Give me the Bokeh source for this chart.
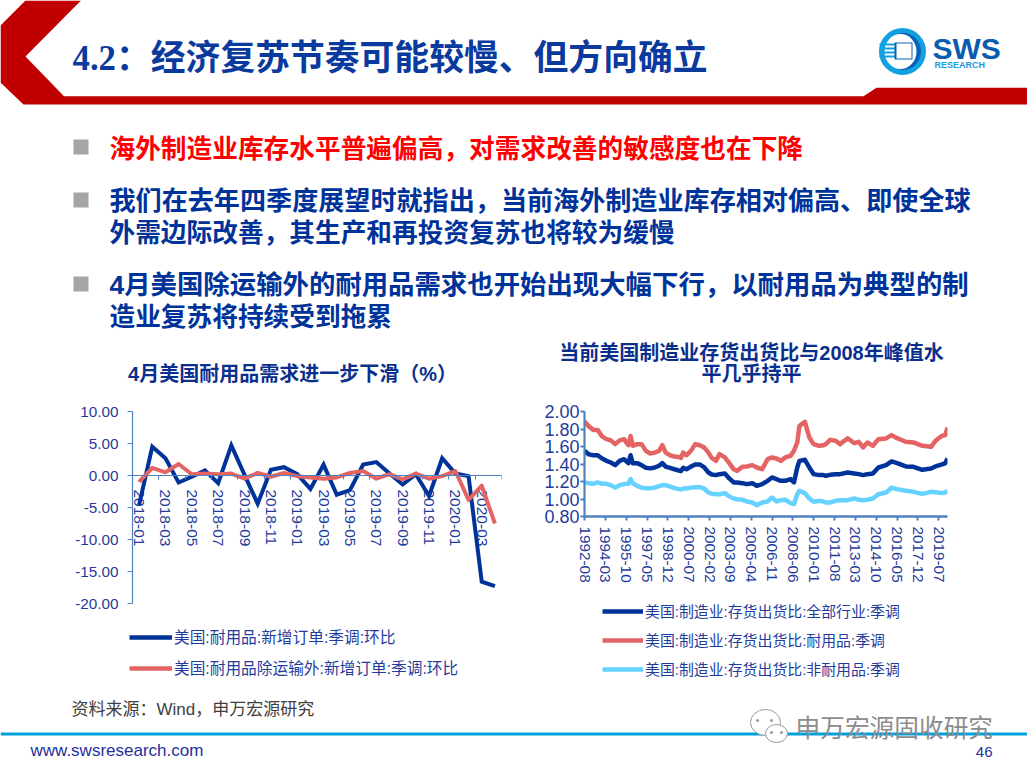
from bokeh.plotting import figure
from bokeh.layouts import column, row
from bokeh.models import FixedTicker, LinearAxis, Legend, LegendItem, NumeralTickFormatter, Range1d
from bokeh.core.properties import value
from bokeh.embed import file_html
from bokeh.resources import INLINE

# ---------- data ----------
orders_months = ["2018-01","2018-02","2018-03","2018-04","2018-05","2018-06","2018-07","2018-08","2018-09","2018-10",
                 "2018-11","2018-12","2019-01","2019-02","2019-03","2019-04","2019-05","2019-06","2019-07","2019-08",
                 "2019-09","2019-10","2019-11","2019-12","2020-01","2020-02","2020-03","2020-04"]
durable_orders = [-4.6,4.5,2.7,-1.1,-0.2,0.8,-1.2,4.7,0.1,-4.4,0.9,1.3,0.2,-2.1,1.7,-3.0,-2.3,1.7,2.1,0.3,
                  -1.4,0.2,-3.2,2.7,0.3,-0.1,-16.6,-17.3]
ex_transport_orders = [-1.0,1.2,0.5,1.8,0.2,0.3,0.2,0.3,-0.5,0.4,-0.2,0.4,-0.1,-0.3,-0.5,-0.3,0.4,0.7,-0.5,0.2,
                       -0.6,0.3,-0.5,-0.1,0.7,-3.8,-1.6,-7.5]
left_y_ticks = [10, 5, 0, -5, -10, -15, -20]

# months since 1992-08 at which the inventory/shipment ratios were read
ratio_month_index = [0,4,8,12,16,20,24,28,32,36,40,42,44,48,52,56,60,64,68,71,74,78,82,86,88,90,93,97,101,105,109,113,116,
                     120,123,128,132,136,139,144,148,153,157,162,167,171,175,179,183,188,191,194,196,201,205,209,214,218,
                     220,224,229,233,240,246,250,254,258,263,268,275,280,285,293,300,308,316,320,326,329,331]
ratio_all = [1.55,1.51,1.50,1.50,1.463,1.436,1.417,1.387,1.436,1.455,1.41,1.50,1.41,1.41,1.387,1.356,1.35,1.36,1.38,1.41,
             1.37,1.356,1.34,1.326,1.32,1.356,1.34,1.37,1.395,1.395,1.365,1.303,1.28,
             1.273,1.284,1.292,1.235,1.189,1.189,1.181,1.17,1.181,1.151,1.17,1.208,1.246,1.227,1.208,1.208,1.227,1.189,
             1.36,1.436,1.448,1.36,1.284,1.273,1.273,
             1.265,1.276,1.284,1.284,1.303,1.292,1.284,1.273,1.284,1.292,1.36,1.387,1.429,1.41,1.372,1.368,1.334,1.349,1.372,1.395,1.41,1.463]
ratio_durable = [1.886,1.83,1.79,1.79,1.715,1.684,1.67,1.627,1.67,1.684,1.615,1.72,1.608,1.627,1.627,1.55,1.52,1.53,1.55,1.615,
                 1.53,1.50,1.485,1.48,1.47,1.53,1.50,1.55,1.627,1.615,1.59,1.53,1.47,
                 1.436,1.513,1.475,1.41,1.341,1.322,1.368,1.372,1.387,1.36,1.341,1.455,1.475,1.463,1.436,1.475,1.494,1.551,
                 1.646,1.836,1.882,1.703,1.627,1.608,1.615,
                 1.627,1.676,1.665,1.627,1.695,1.638,1.654,1.589,1.646,1.608,1.684,1.692,1.73,1.695,1.654,1.646,1.608,1.596,1.665,1.722,1.73,1.817]
ratio_nondurable = [1.19,1.18,1.174,1.19,1.174,1.174,1.158,1.13,1.158,1.17,1.174,1.227,1.18,1.15,1.13,1.124,1.124,1.13,1.147,1.158,
                    1.158,1.143,1.124,1.113,1.11,1.12,1.12,1.13,1.135,1.135,1.12,1.075,1.06,
                    1.055,1.055,1.067,1.029,1.006,0.998,0.991,0.972,0.96,0.93,0.96,0.972,1.017,0.972,0.987,0.991,0.953,0.941,
                    1.055,1.094,1.067,1.006,0.968,0.979,0.972,
                    0.96,0.96,0.979,0.987,0.987,1.006,0.991,0.987,0.991,1.006,1.055,1.075,1.128,1.113,1.094,1.082,1.059,1.082,1.078,1.067,1.075,1.094]
ratio_tick_labels = ["1992-08","1994-03","1995-10","1997-05","1998-12","2000-07","2002-02","2003-09","2005-04",
                     "2006-11","2008-06","2010-01","2011-08","2013-03","2014-10","2016-05","2017-12","2019-07"]
right_y_ticks = [0.8, 1.0, 1.2, 1.4, 1.6, 1.8, 2.0]

COMMA, COLON, LP, RP = "\uff0c", "\uff1a", "\uff08", "\uff09"
slide_title = "4.2" + COLON + "经济复苏节奏可能较慢、但方向确立"
bullets = [("海外制造业库存水平普遍偏高" + COMMA + "对需求改善的敏感度也在下降", 148, "#FF0000", 25.7),
           ("我们在去年四季度展望时就指出" + COMMA + "当前海外制造业库存相对偏高、即使全球", 200, "#003399", 26.1),
           ("外需边际改善" + COMMA + "其生产和再投资复苏也将较为缓慢", 232, "#003399", 25.7),
           ("4月美国除运输外的耐用品需求也开始出现大幅下行" + COMMA + "以耐用品为典型的制", 284, "#003399", 26.4),
           ("造业复苏将持续受到拖累", 316, "#003399", 25.7)]

# ---------- style ----------
NAVY, CORAL, SKY = "#003399", "#E46464", "#66D2FF"
AXIS, TXT = "#4F81BD", "#1F3C9C"
SANS = "Liberation Sans, Noto Sans CJK SC"
CJK = "Noto Sans CJK SC"
SERIF = "Liberation Serif, Noto Sans CJK SC"

def canvas(h, y0, w=1027):
    f = figure(width=w, height=h, x_range=Range1d(0, w), y_range=Range1d(y0 + h, y0),
               output_backend="svg", toolbar_location=None, min_border=0, x_axis_type=None, y_axis_type=None,
               frame_align=False)
    f.grid.visible = False
    f.outline_line_color = None
    return f

def put(f, x, y, s, size, color, font=CJK, style="normal", align="left"):
    f.text([x], [y], text=[s], text_font=value(font), text_font_size=f"{size}px", text_color=color,
           text_font_style=style, text_baseline="middle", text_align=align)

def legend_strip(h, y0, w, entries, x, spacing, glyph_w, width, size):
    f = canvas(h, y0, w)
    # the key lines lie outside the strip's range: only their legend glyphs show
    items = [LegendItem(label=t, renderers=[f.line([-9, -8], [-9, -8], line_color=col, line_width=width)]) for t, col in entries]
    f.add_layout(Legend(items=items, location=(x, 11), padding=0, margin=0, spacing=spacing, glyph_width=glyph_w,
                        glyph_height=20, label_height=20, label_standoff=2, border_line_color=None,
                        background_fill_color=None, label_text_font=SANS, label_text_font_size=size,
                        label_text_color=TXT), "center")
    return f

# ---------- slide header ----------
top = canvas(386, 0)
top.patch([25, 80.5, 25, 63.5, 863, 876, 1027, 1027, 23, 0, 0], [0, 0, 56, 95.7, 95.7, 87.3, 87.3, 104, 104, 82, 25],
          fill_color="#C00000", line_color=None)
put(top, 72, 58, slide_title, 34.8, "#0B3A9E", SERIF, "bold")
# logo
top.ellipse([902], [51], width=47, height=47, fill_color="#12A0E0", line_color=None)
top.ellipse([903], [51], width=35, height=37, fill_color="#0B62B5", line_color=None)
top.ellipse([900], [51], width=32, height=35, fill_color="white", line_color=None)
top.quad(left=[879, 879, 879, 879], right=[896, 896, 896, 896], top=[45, 49, 53, 57], bottom=[43, 47, 51, 55],
         fill_color="#12A0E0", line_color=None)
top.quad(left=[894], right=[912], top=[59], bottom=[42], fill_color="#0B62B5", line_color=None)
top.quad(left=[896], right=[911], top=[58], bottom=[43], fill_color="white", line_color=None)
put(top, 932, 48, "SWS", 30, "#0A5CAF", "Liberation Sans", "bold")
put(top, 934, 64, "RESEARCH", 9, "#1A9BDC", "Liberation Sans", "bold")

for s, y, c, z in bullets:
    put(top, 109, y, s, z, c, SANS, "bold")
top.quad(left=[73, 73, 73], right=[88, 88, 88], top=[154, 207, 291], bottom=[139, 192, 276],
         fill_color="#A6A6A6", line_color=None)

put(top, 292, 373, "4月美国耐用品需求进一步下滑" + LP + "%" + RP, 20, "#0B2F8C", SANS, "bold", "center")
put(top, 751, 352, "当前美国制造业存货出货比与2008年峰值水", 20, "#0B2F8C", SANS, "bold", "center")
put(top, 751, 373, "平几乎持平", 20, "#0B2F8C", SANS, "bold", "center")

# ---------- left chart ----------
def style_y(f, ticks, size, lw, standoff):
    ax = f.yaxis[0]
    ax.ticker = FixedTicker(ticks=ticks)
    ax.formatter = NumeralTickFormatter(format="0.00")
    ax.axis_line_color = AXIS
    ax.axis_line_width = lw
    ax.major_tick_line_color = AXIS
    ax.major_tick_line_width = lw
    ax.major_tick_out = 5
    ax.major_tick_in = 0
    ax.minor_tick_line_color = None
    ax.major_label_text_color = TXT
    ax.major_label_text_font = "Liberation Sans"
    ax.major_label_text_font_size = size
    ax.major_label_standoff = standoff

left = figure(width=520, height=230, x_range=Range1d(-0.5, 27.5), y_range=Range1d(-20, 10),
              output_backend="svg", toolbar_location=None, min_border_left=132, min_border_right=19,
              min_border_top=25, min_border_bottom=13, frame_align=False)
left.grid.visible = False
left.outline_line_color = None
style_y(left, left_y_ticks, "15.3px", 1.2, 9)

label_pos = list(range(0, len(orders_months), 2))
xa = left.xaxis[0]
xa.fixed_location = 0
xa.ticker = FixedTicker(ticks=label_pos)
xa.major_label_overrides = {i: orders_months[i] for i in label_pos}
xa.major_label_orientation = "vertical"
xa.major_label_text_color = TXT
xa.major_label_text_font = "Liberation Sans"
xa.major_label_text_font_size = "15.5px"
xa.major_label_standoff = 8
xa.major_tick_line_color = None
xa.minor_tick_line_color = None
xa.axis_line_color = AXIS
xa.axis_line_width = 1.2
xa.level = "underlay"

edge = LinearAxis(ticker=FixedTicker(ticks=[i - 0.5 for i in range(0, len(orders_months) + 1, 2)]),
                  fixed_location=0, major_label_text_font_size="0px", major_label_text_color=None,
                  axis_line_color=AXIS, major_tick_line_color=AXIS, major_tick_out=4, major_tick_in=0,
                  minor_tick_line_color=None)
left.add_layout(edge, "below")

xs = list(range(len(orders_months)))
left.line(xs, durable_orders, line_color=NAVY, line_width=4, line_join="miter")
left.line(xs, ex_transport_orders, line_color=CORAL, line_width=4, line_join="round")
left_legend = legend_strip(74, 616, 520, [("美国:耐用品:新增订单:季调:环比", NAVY),
                                          ("美国:耐用品除运输外:新增订单:季调:环比", CORAL)], 129, 8, 43, 4.5, "15.7px")

# ---------- right chart ----------
right = figure(width=507, height=213, x_range=Range1d(0, 331), y_range=Range1d(0.8, 2.0),
               output_backend="svg", toolbar_location=None, min_border_left=64, min_border_right=80,
               min_border_top=25, min_border_bottom=83, frame_align=False)
right.grid.visible = False
right.outline_line_color = None
style_y(right, right_y_ticks, "18px", 2.2, 1)
right.yaxis[0].major_tick_out = 4

tick_pos = [i * 19 for i in range(len(ratio_tick_labels))]
xb = right.xaxis[0]
xb.ticker = FixedTicker(ticks=tick_pos)
xb.major_label_overrides = {p: s for p, s in zip(tick_pos, ratio_tick_labels)}
xb.major_label_orientation = "vertical"
xb.major_label_text_color = TXT
xb.major_label_text_font = "Liberation Sans"
xb.major_label_text_font_size = "15.3px"
xb.major_label_standoff = 6
xb.axis_line_color = AXIS
xb.axis_line_width = 2.5
xb.major_tick_line_color = AXIS
xb.major_tick_line_width = 2
xb.major_tick_out = 4
xb.major_tick_in = 0
xb.minor_tick_line_color = None

right.line(ratio_month_index, ratio_all, line_color=NAVY, line_width=4.5, line_join="round")
right.line(ratio_month_index, ratio_durable, line_color=CORAL, line_width=4.5, line_join="round")
right.line(ratio_month_index, ratio_nondurable, line_color=SKY, line_width=4.5, line_join="round")
right_legend = legend_strip(91, 599, 507, [("美国:制造业:存货出货比:全部行业:季调", NAVY),
                                           ("美国:制造业:存货出货比:耐用品:季调", CORAL),
                                           ("美国:制造业:存货出货比:非耐用品:季调", SKY)], 82, 8, 41, 4.5, "14.9px")

# ---------- footer ----------
bottom = canvas(80, 690)
bottom.quad(left=[0], right=[1027], top=[735], bottom=[732], fill_color="#00A0E0", line_color=None)
put(bottom, 71, 709, "资料来源" + COLON + "Wind" + COMMA + "申万宏源研究", 17, "#404040", SANS)
put(bottom, 30, 750, "www.swsresearch.com", 17, "#1F2FA0", "Liberation Sans")
put(bottom, 992, 751, "46", 15, "#1F2FA0", "Liberation Sans", align="right")
bottom.ellipse([765, 776], [722, 733], width=[30, 22], height=[26, 18], fill_color="white", line_color="#9A9A9A", line_width=1)
bottom.scatter([757, 771, 771, 781], [720, 720, 732, 732], size=3, fill_color="#9A9A9A", line_color=None)
put(bottom, 795, 725, "申万宏源固收研究", 24.7, "#8C8C8C", CJK)

charts = row(column(left, left_legend, spacing=0), column(right, right_legend, spacing=0), spacing=0)
page = column(top, charts, bottom, spacing=0)
open("out.html", "w").write(file_html(page, INLINE))
